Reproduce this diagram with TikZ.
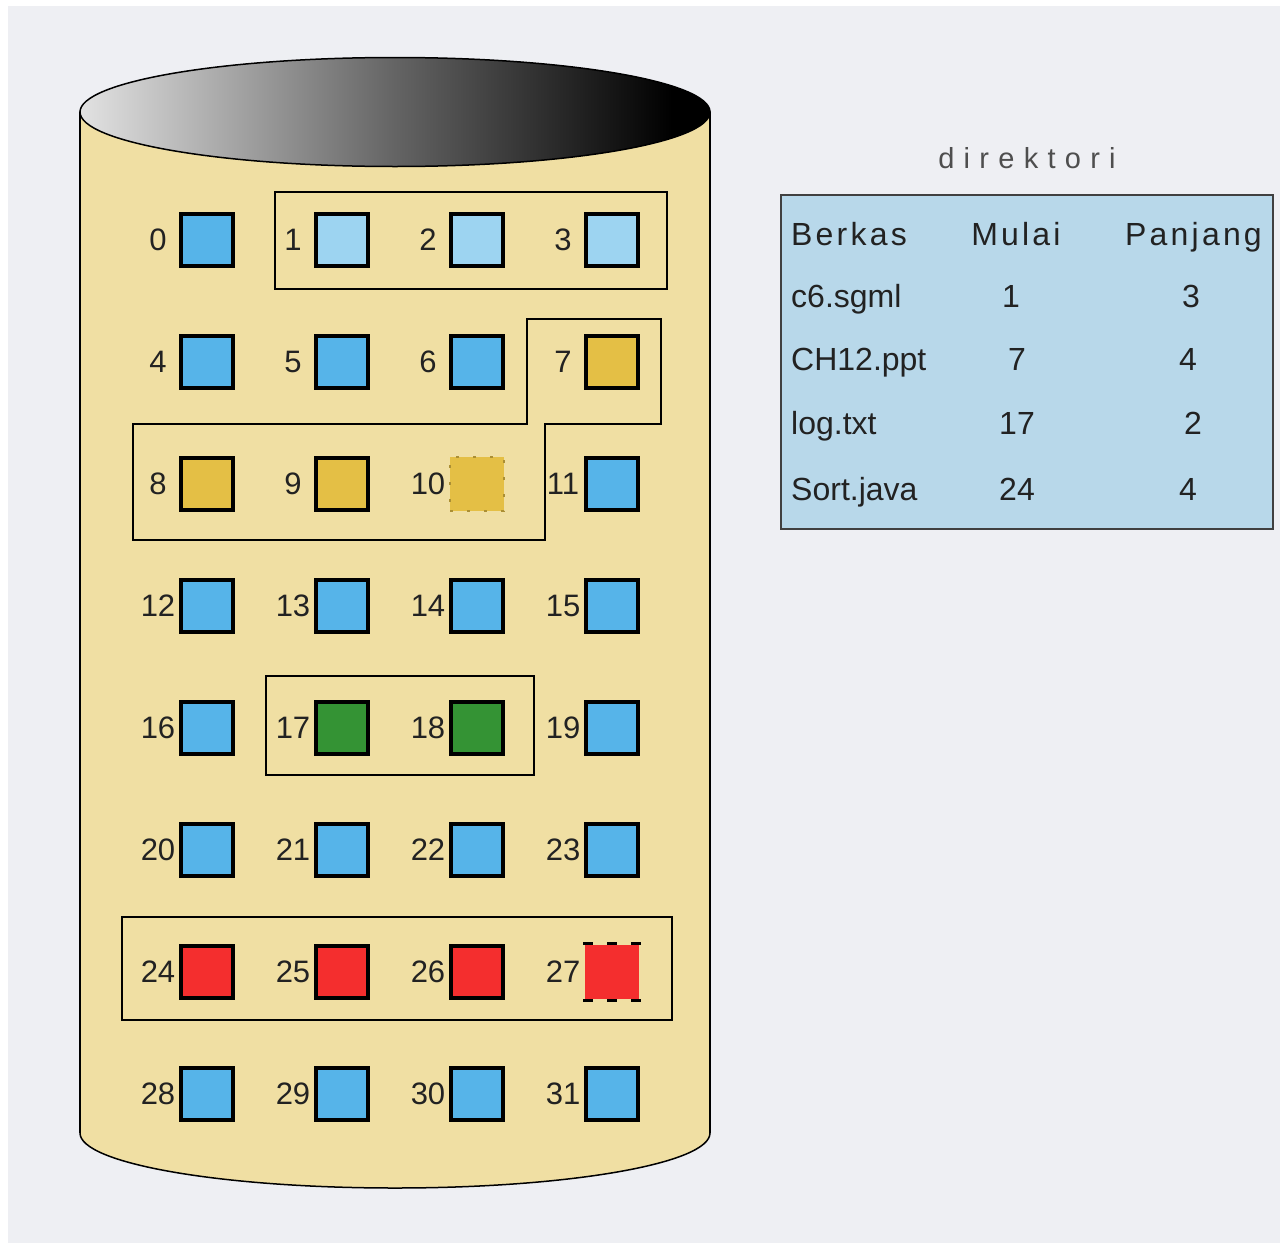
\documentclass[tikz,border=0pt]{standalone}
\usepackage{fontspec}
\setmainfont{Liberation Sans}
\definecolor{bgpanel}{HTML}{EEEFF3}
\definecolor{cylfill}{HTML}{F0DFA3}
\definecolor{bblue}{HTML}{56B4E9}
\definecolor{lblue}{HTML}{9DD4F1}
\definecolor{gold}{HTML}{E4BF45}
\definecolor{fgreen}{HTML}{349334}
\definecolor{fred}{HTML}{F42E2E}
\definecolor{dirfill}{HTML}{B8D8EA}
\definecolor{txt}{HTML}{222222}
\definecolor{lidlight}{HTML}{E2E2E2}
\definecolor{lidmid}{HTML}{646464}
\pgfdeclarehorizontalshading{lidshade}{100bp}{color(0bp)=(lidlight); color(25bp)=(lidlight); color(50bp)=(lidmid); color(72bp)=(black); color(100bp)=(black)}
\begin{document}
\begin{tikzpicture}[x=1pt,y=-1pt,
  blk/.style={rectangle,draw=black,line width=3.2pt,minimum size=52pt,inner sep=0pt},
  lbl/.style={inner sep=0pt,anchor=base,text=txt,font=\fontsize{31}{36}\selectfont},
  grp/.style={draw=black,line width=2pt},
  cyl/.style={draw=black,line width=1.5pt},
  dirbox/.style={rectangle,draw=black!75,line width=2pt,fill=dirfill,inner sep=0pt,minimum width=492pt,minimum height=334pt},
  hdr/.style={inner sep=0pt,text=txt,font=\fontsize{32}{38}\selectfont\addfontfeature{LetterSpace=10}},
  cell/.style={inner sep=0pt,text=txt,font=\fontsize{32}{38}\selectfont},
  ttl/.style={inner sep=0pt,text=txt!80,font=\fontsize{29}{34}\selectfont\addfontfeature{LetterSpace=32}}
]
\useasboundingbox (0,0) rectangle (1280,1245);
\fill[white] (0,0) rectangle (1280,1245);
\fill[bgpanel] (8,6) rectangle (1280,1243);

% cylinder body
\path[cyl,fill=cylfill] (80,112) -- (80,1133)
  arc[start angle=180,end angle=0,x radius=315,y radius=55] -- (710,112) -- cycle;
\path[fill=cylfill] (80,112) rectangle (710,120);
\draw[cyl] (80,112) -- (80,1133);
\draw[cyl] (710,112) -- (710,1133);
% top opening
\draw[cyl,shading=lidshade] (395,112) ellipse [x radius=315,y radius=54.5];

% blocks
\foreach \i/\cc in {0/bblue,1/lblue,2/lblue,3/lblue,4/bblue,5/bblue,6/bblue,7/gold,
  8/gold,9/gold,10/gold,11/bblue,12/bblue,13/bblue,14/bblue,15/bblue,
  16/bblue,17/fgreen,18/fgreen,19/bblue,20/bblue,21/bblue,22/bblue,23/bblue,
  24/fred,25/fred,26/fred,27/fred,28/bblue,29/bblue,30/bblue,31/bblue} {
  \pgfmathsetmacro\bx{207+135*mod(\i,4)}
  \pgfmathsetmacro\by{240+122*int(\i/4)}
  \ifnum\i=10
    \node[blk,fill=\cc,draw=gold!75!black,line width=1.2pt,dash pattern=on 3pt off 14pt,minimum size=54pt] (b\i) at (\bx,\by) {};
  \else\ifnum\i=27
    \node[blk,fill=\cc,draw=none,minimum size=54pt] (b\i) at (\bx,\by) {};
  \else
    \node[blk,fill=\cc] (b\i) at (\bx,\by) {};
  \fi\fi
  \node[lbl] (l\i) at (\bx-49,\by+10) {\i};
}
\draw[dash pattern=on 10pt off 14pt,line width=2.4pt] (b27.north west) -- (b27.north east);
\draw[dash pattern=on 10pt off 14pt,line width=2.4pt] (b27.south west) -- (b27.south east);

% file groups
\draw[grp] (275,192) rectangle (667,289);
\draw[grp] (527,319) -- (661,319) -- (661,424) -- (545,424) -- (545,540)
  -- (133,540) -- (133,424) -- (527,424) -- cycle;
\draw[grp] (266,676) rectangle (534,775);
\draw[grp] (122,917) rectangle (672,1020);

% directory
\node[ttl,anchor=base] (title) at (1027,168) {direktori};
\node[dirbox] (dir) at (1027,362) {};
\node[hdr,anchor=base west] (hB) at (791,245) {Berkas};
\node[hdr,anchor=base] (hM) at (1016,245) {Mulai};
\node[hdr,anchor=base west] (hP) at (1125,245) {Panjang};

\node[cell,anchor=base west] (f1) at (791,307) {c6.sgml};
\node[cell,anchor=base] (m1) at (1011,307) {1};
\node[cell,anchor=base] (p1) at (1191,307) {3};

\node[cell,anchor=base west] (f2) at (791,370) {CH12.ppt};
\node[cell,anchor=base] (m2) at (1017,370) {7};
\node[cell,anchor=base] (p2) at (1188,370) {4};

\node[cell,anchor=base west] (f3) at (791,434) {log.txt};
\node[cell,anchor=base] (m3) at (1017,434) {17};
\node[cell,anchor=base] (p3) at (1193,434) {2};

\node[cell,anchor=base west] (f4) at (791,500) {Sort.java};
\node[cell,anchor=base] (m4) at (1017,500) {24};
\node[cell,anchor=base] (p4) at (1188,500) {4};
\end{tikzpicture}
\end{document}
